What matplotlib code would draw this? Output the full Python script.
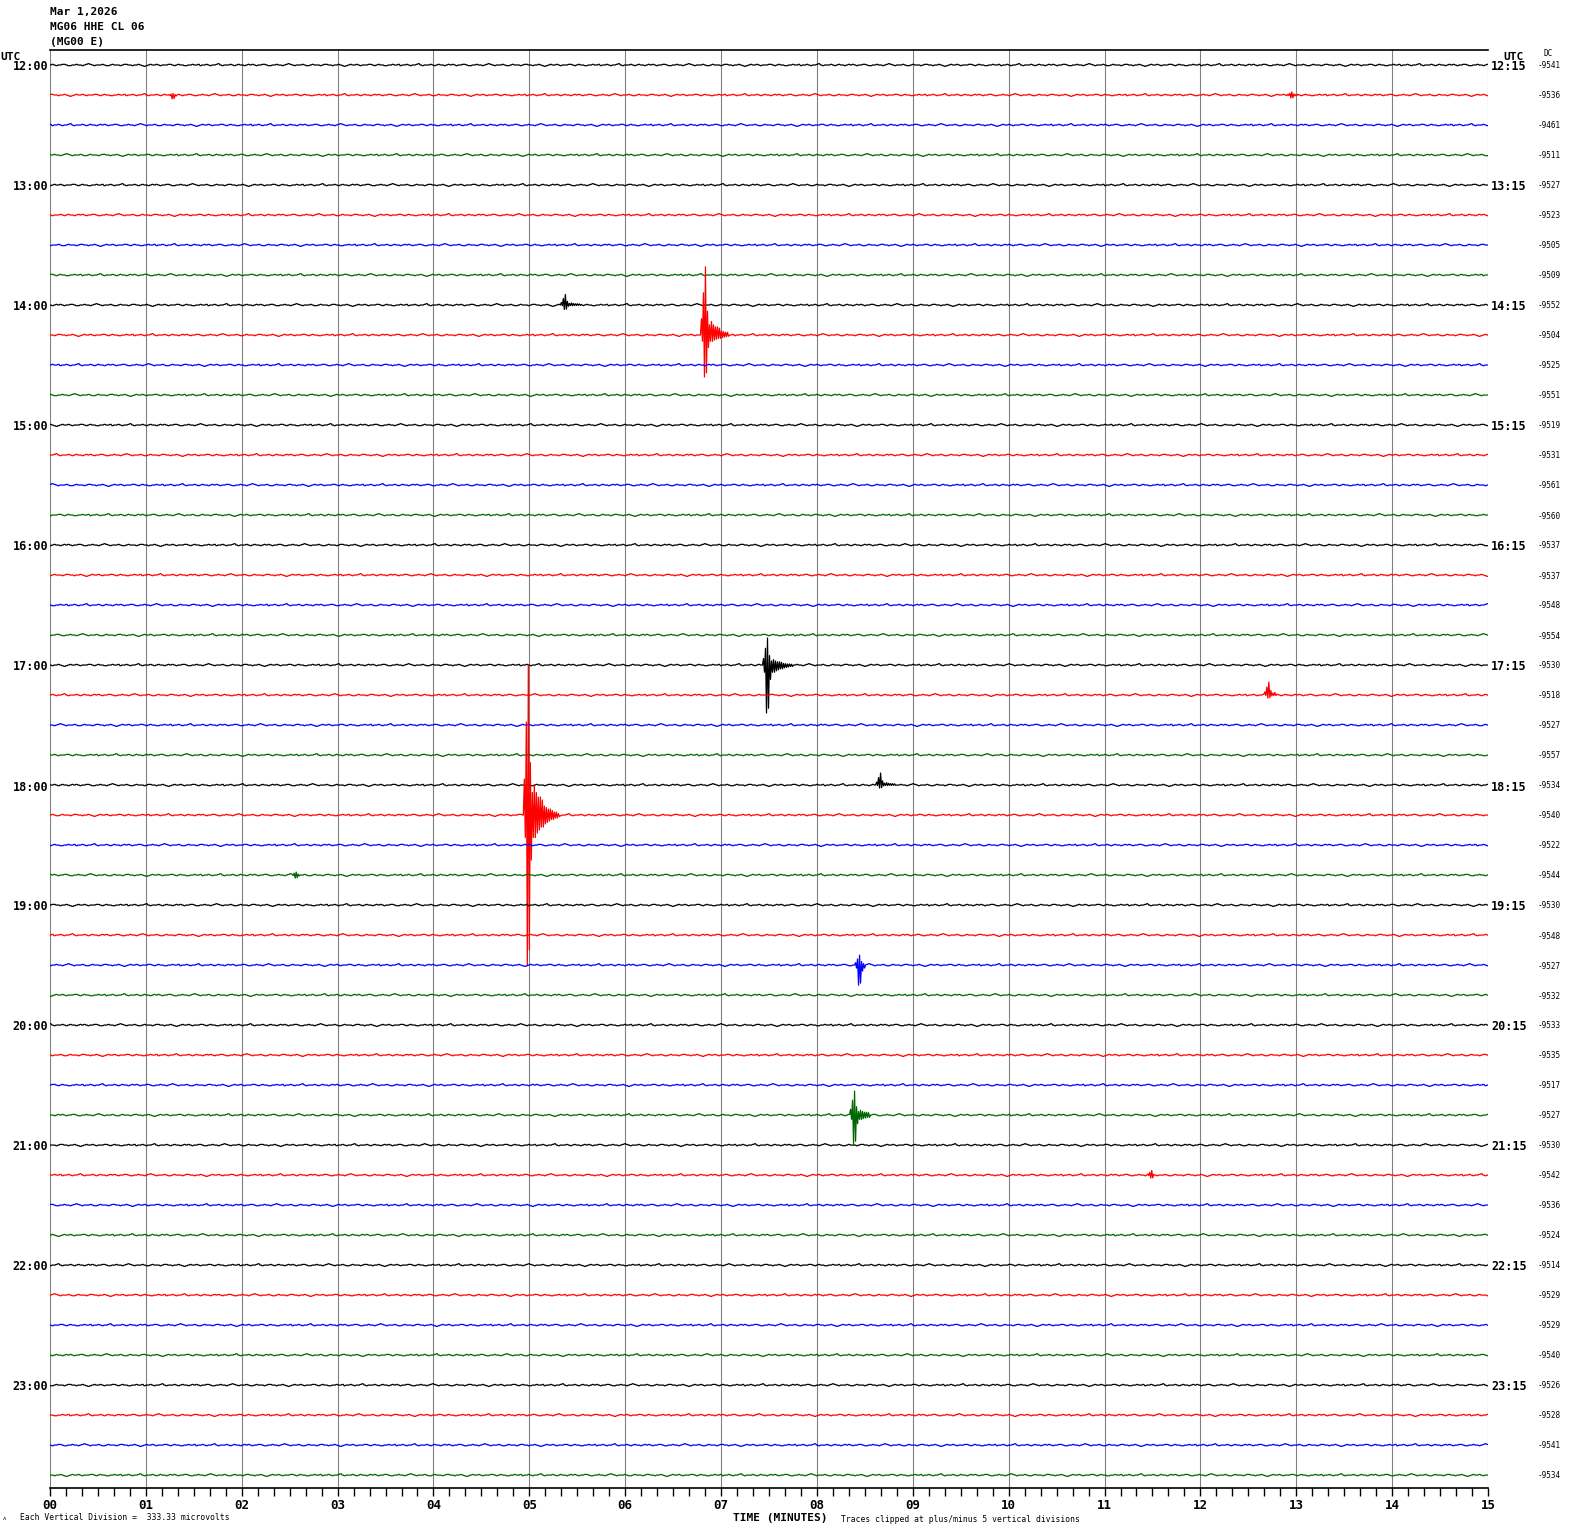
import numpy as np
import matplotlib
matplotlib.use("Agg")
import matplotlib.pyplot as plt

# header / labels
title_lines = ["Mar 1,2026", "MG06 HHE CL 06", "(MG00 E)"]
left_hours = ["12:00", "13:00", "14:00", "15:00", "16:00", "17:00",
              "18:00", "19:00", "20:00", "21:00", "22:00", "23:00"]
right_hours = ["12:15", "13:15", "14:15", "15:15", "16:15", "17:15",
               "18:15", "19:15", "20:15", "21:15", "22:15", "23:15"]
minute_labels = ["00", "01", "02", "03", "04", "05", "06", "07",
                 "08", "09", "10", "11", "12", "13", "14", "15"]
dc_values = [-9541, -9536, -9461, -9511, -9527, -9523, -9505, -9509,
             -9552, -9504, -9525, -9551, -9519, -9531, -9561, -9560,
             -9537, -9537, -9548, -9554, -9530, -9518, -9527, -9557,
             -9534, -9540, -9522, -9544, -9530, -9548, -9527, -9532,
             -9533, -9535, -9517, -9527, -9530, -9542, -9536, -9524,
             -9514, -9529, -9529, -9540, -9526, -9528, -9541, -9534]
trace_colors = ["black", "#ff0000", "#0000ff", "#006600"]

# background wiggle (pixels, 1 div = 30 px)
noise_px = [0, 1, 0, -1, 0, 0, 1, 1, 0, -1, -1, 0, 0, 1, 0, 0, -1, 0, 1, 2,
            1, 0, -1, 0, 0, 0, 1, 0, -1, -1, 0, 1, 0, 0, 0, -1, 0, 1, 1, 0,
            0, -1, 0, 0, 1, 0, -1, -2, -1, 0, 1, 0, 0, 1, 0, -1, 0, 0, 0, 1,
            1, 0, -1, 0, 1, 0, 0, -1, -1, 0, 0, 1, 0, 0, 1, -1, 0, 0, 1, 0,
            -1, 0, 0, 1, 2, 0, -1, 0, 0, 0, 1, 0, -1, 0, 1, 0, 0, -1, 0, 1]

# waveform of the large 18:15 event, normalised, one value per pixel
event_shape = [0.24, -0.15, 0.62, -1.0, 1.0, -0.9, 0.35, -0.3, 0.15, -0.15,
               0.2, -0.15, 0.15, -0.12, 0.12, -0.1, 0.12, -0.08, 0.1, -0.08,
               0.06, -0.06, 0.05, -0.05, 0.04, -0.04, 0.04, -0.03, 0.03, -0.03,
               0.02, -0.02, 0.02, -0.02, 0.01, -0.01]

# events: trace index, onset minute, up/down amplitude (divisions), length (px)
event_trace = [1, 1, 8, 9, 20, 21, 24, 25, 27, 30, 35, 37]
event_minute = [1.24, 12.9, 5.33, 6.79, 7.44, 12.66, 8.62, 4.94, 2.52, 8.40, 8.35, 11.44]
event_up = [0.05, 0.1, 0.35, 2.27, 0.9, 0.43, 0.4, 5.0, 0.1, 0.33, 0.8, 0.15]
event_down = [0.13, 0.1, 0.15, 1.4, 1.6, 0.1, 0.1, 5.0, 0.1, 0.67, 0.97, 0.1]
event_len = [8, 10, 22, 28, 30, 12, 20, 36, 8, 10, 20, 6]

W, H = 1570, 1534
fig = plt.figure(figsize=(W / 100, H / 100), dpi=100)
ax = fig.add_axes([50 / W, 1 - 1488 / H, 1438 / W, 1438 / H])

mono = ["DejaVu Sans Mono", "DejaVu Sans"]
n_traces = len(dc_values)
n_samp = 1438
t = np.linspace(0, 15, n_samp)
px_per_min = n_samp / 15.0

for i in range(n_traces):
    idx = (np.arange(n_samp) // 2 + i * 37) % len(noise_px)
    y = np.array(noise_px, dtype=float)[idx] / 45.0
    for tr, m, up, dn, ln in zip(event_trace, event_minute, event_up, event_down, event_len):
        if tr != i:
            continue
        s0 = int(round(m * px_per_min))
        for k, v in enumerate(event_shape[:ln]):
            if s0 + k < n_samp:
                y[s0 + k] = v * (up if v > 0 else dn)
    y = np.clip(y, -5, 5)
    ax.plot(t, y - i, color=trace_colors[i % 4], lw=0.9, zorder=3)

for m in range(16):
    ax.axvline(m, color="#808080", lw=0.8, zorder=1)

ax.set_xlim(0, 15)
ax.set_ylim(-47.43, 0.5)
ax.set_yticks([])
ax.set_xticks(range(16))
ax.set_xticklabels(minute_labels, fontfamily=mono, fontweight="bold", fontsize=9)
ax.set_xticks(np.arange(0, 15.01, 1 / 6), minor=True)
ax.tick_params(axis="x", which="both", direction="out", length=6, width=1, pad=2)
ax.spines["left"].set_visible(False)
ax.spines["right"].set_visible(False)
ax.spines["top"].set_linewidth(1.2)
ax.spines["bottom"].set_linewidth(1.2)


def ftext(x, y, s, **kw):
    kw.setdefault("fontfamily", mono)
    kw.setdefault("va", "center")
    fig.text(x / W, 1 - y / H, s, **kw)


for j, line in enumerate(title_lines):
    ftext(50, 12 + j * 15, line, fontsize=8, fontweight="bold")

ftext(0, 57, "UTC", fontsize=8, fontweight="bold")
ftext(1513, 57, "UTC", fontsize=8, fontweight="bold", ha="center")
ftext(1544, 54, "DC", fontsize=5.5)

for h in range(12):
    yy = 65 + h * 4 * 30 + 2
    ftext(48, yy, left_hours[h], fontsize=8.5, fontweight="bold", ha="right")
    ftext(1491, yy, right_hours[h], fontsize=8.5, fontweight="bold")

for i, dc in enumerate(dc_values):
    ftext(1538, 66 + i * 30, str(dc), fontsize=5.5)

ftext(3, 1519, "ʌ", fontsize=4)
ftext(20, 1518, "Each Vertical Division =  333.33 microvolts", fontsize=5.8)
ftext(733, 1518, "TIME (MINUTES)", fontsize=8, fontweight="bold")
ftext(841, 1519, "Traces clipped at plus/minus 5 vertical divisions", fontsize=5.8)

fig.savefig("out.png", dpi=100)
